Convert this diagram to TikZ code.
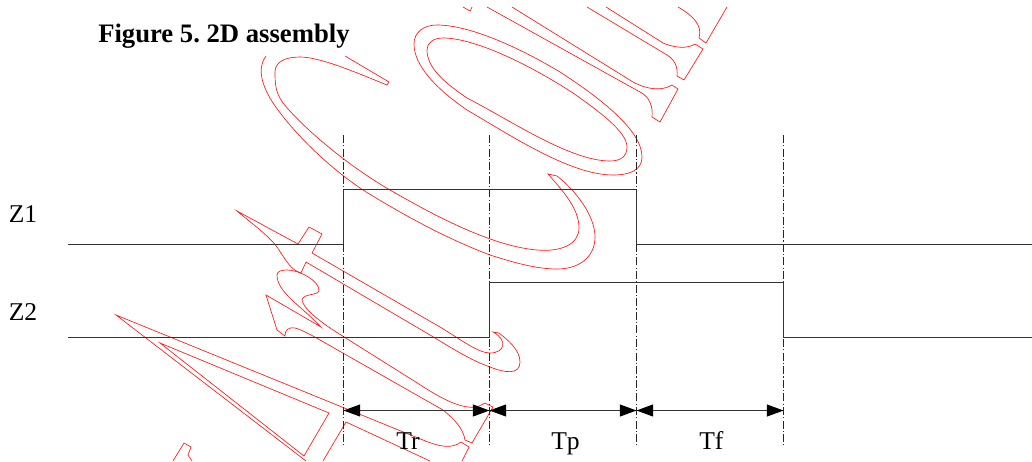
\documentclass[tikz,border=0pt]{standalone}
\usepackage{fontspec}
\setmainfont{Liberation Serif}
\usetikzlibrary{arrows.meta}
\tikzset{
  wave/.style={draw=black!80,line width=0.8pt},
  guide/.style={draw=black!85,line width=0.7pt,dash pattern=on 6pt off 1.6pt on 1pt off 1.6pt},
  span/.style={draw=black!80,line width=0.8pt,{Triangle[length=12.5pt,width=9pt,color=black]}-{Triangle[length=12.5pt,width=9pt,color=black]}},
  outline/.style={draw=red!90!white,line width=0.5pt,line join=miter},
  lab/.style={anchor=base west,inner sep=0pt,font=\fontsize{19.2}{21}\selectfont,text=black},
  heading/.style={anchor=base west,inner sep=0pt,font=\fontsize{20}{22}\selectfont\bfseries\frenchspacing,text=black}
}
\begin{document}
\begin{tikzpicture}[x=0.75pt,y=-0.75pt]
\useasboundingbox (0,0) rectangle (1032,461);
% watermark outline
% A
\draw[outline] (306,461) -- (116,315) -- (423,440) .. controls (440,447) and (452,449) .. (461,442) -- (469,447) -- (462,461);
\draw[outline] (160,343) -- (329,413) -- (304,456) -- cycle;
\draw[outline] (323,461) -- (346,422) -- (430,461);
\draw[outline] (173,461) -- (184,443) -- (191,447) -- (188,455) -- (192,461);
% r stem and serif
\draw[outline] (237,211) -- (298,244) -- (309,227) -- (322,234) -- (312,253) -- (440,327)
  .. controls (460,339) and (478,353) .. (490,353)
  .. controls (505,353) and (508,340) .. (493,332) -- (499,333)
  .. controls (508,340) and (520,350) .. (520,362)
  .. controls (520,375) and (505,373) .. (490,367)
  .. controls (470,360) and (450,347) .. (430,335) -- (306,262) -- (301,273)
  .. controls (291,270) and (287,262) .. (277,247)
  .. controls (268,235) and (250,222) .. (237,211) -- cycle;
% r ear
\draw[outline] (321,327) .. controls (300,305) and (277,292) .. (277,275)
  .. controls (277,271) and (282,270) .. (287,270)
  .. controls (300,270) and (319,281) .. (319,290)
  .. controls (319,296) and (303,293) .. (302,300)
  .. controls (303,308) and (318,320) .. (333,330) -- (430,391)
  .. controls (445,400) and (462,409) .. (477,407) -- (485,403) -- (493,407) -- (472,443) -- (465,440)
  .. controls (463,428) and (455,420) .. (443,410) -- (313,336)
  .. controls (307,333) and (300,329) .. (295,328)
  .. controls (288,327) and (285,330) .. (285,336) -- (277,330) -- (266,295) -- cycle;
% C
\draw[outline] (266,56) .. controls (260,64) and (257,78) .. (273,103)
  .. controls (295,135) and (330,168) .. (363,190)
  .. controls (400,213) and (445,238) .. (490,255)
  .. controls (515,263) and (537,269) .. (557,269)
  .. controls (578,269) and (595,258) .. (595,237)
  .. controls (595,215) and (575,190) .. (557,176) -- (548,174)
  .. controls (562,190) and (579,208) .. (579,228)
  .. controls (579,245) and (560,252) .. (537,250)
  .. controls (490,246) and (430,213) .. (390,190)
  .. controls (350,167) and (305,130) .. (283,103)
  .. controls (275,92) and (275,82) .. (275,72)
  .. controls (275,62) and (285,57) .. (300,57)
  .. controls (320,57) and (355,72) .. (387,85) -- (389,82) -- (345,56);
% O
\draw[outline] (414,44) .. controls (414,32) and (424,25) .. (437,25)
  .. controls (470,25) and (520,48) .. (560,72)
  .. controls (600,98) and (642,130) .. (642,157)
  .. controls (642,170) and (630,175) .. (613,175)
  .. controls (570,175) and (510,135) .. (467,110)
  .. controls (435,88) and (414,65) .. (414,44) -- cycle;
\draw[outline] (427,50) .. controls (427,43) and (433,38) .. (443,38)
  .. controls (475,38) and (530,65) .. (573,93)
  .. controls (600,112) and (627,132) .. (627,147)
  .. controls (627,157) and (620,161) .. (610,161)
  .. controls (570,161) and (510,120) .. (467,98)
  .. controls (445,83) and (427,68) .. (427,50) -- cycle;
% u
\draw[outline] (463,7) -- (470,11) -- (472,7);
\draw[outline] (512,7) -- (633,82) .. controls (648,90) and (662,91) .. (672,85) -- (678,89) -- (660,122) -- (652,117)
  .. controls (653,107) and (650,97) .. (640,92) -- (487,7);
\draw[outline] (606,7) -- (663,43) .. controls (675,48) and (687,49) .. (695,44) -- (703,49) -- (684,80) -- (677,76)
  .. controls (678,67) and (675,60) .. (667,55) -- (587,7);
\draw[outline] (678,7) .. controls (692,15) and (703,25) .. (699,38) -- (706,43) -- (727,7);
% guides
\coordinate (g1t) at (343.5,135); \coordinate (g1b) at (343.5,445);
\coordinate (g2t) at (489.5,135); \coordinate (g2b) at (489.5,445);
\coordinate (g3t) at (636.5,135); \coordinate (g3b) at (636.5,445);
\coordinate (g4t) at (783.5,135); \coordinate (g4b) at (783.5,445);
\draw[guide] (g1t) -- (g1b);
\draw[guide] (g2t) -- (g2b);
\draw[guide] (g3t) -- (g3b);
\draw[guide] (g4t) -- (g4b);
% waveforms
\coordinate (z1a) at (68,244.7);  \coordinate (z1b) at (343.5,244.7);
\coordinate (z1c) at (343.5,189.5); \coordinate (z1d) at (636.5,189.5);
\coordinate (z1e) at (636.5,244.7); \coordinate (z1f) at (1032,244.7);
\draw[wave] (z1a) -- (z1b) -- (z1c) -- (z1d) -- (z1e) -- (z1f);
\coordinate (z2a) at (68,337.5);  \coordinate (z2b) at (489.5,337.5);
\coordinate (z2c) at (489.5,282.5); \coordinate (z2d) at (783.5,282.5);
\coordinate (z2e) at (783.5,337.5); \coordinate (z2f) at (1032,337.5);
\draw[wave] (z2a) -- (z2b) -- (z2c) -- (z2d) -- (z2e) -- (z2f);
% spans
\coordinate (s1) at (343.5,410.5); \coordinate (s2) at (489.5,410.5);
\coordinate (s3) at (636.5,410.5); \coordinate (s4) at (783.5,410.5);
\draw[span] (s1) -- (s2);
\draw[span] (s2) -- (s3);
\draw[span] (s3) -- (s4);
% labels
\node[heading] (title) at (98,42) {Figure 5. 2D assembly};
\node[lab] (zone) at (8.5,222.5) {Z1};
\node[lab] (ztwo) at (8.5,320) {Z2};
\node[lab] (tr) at (396,449) {Tr};
\node[lab] (tp) at (551,449) {Tp};
\node[lab] (tf) at (699,449) {Tf};
\end{tikzpicture}
\end{document}
